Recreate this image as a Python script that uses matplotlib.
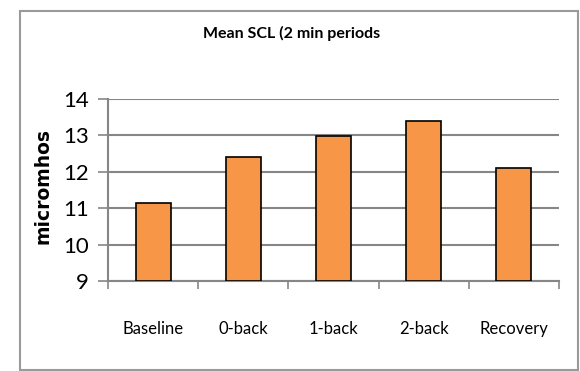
import matplotlib.pyplot as plt
from matplotlib.patches import Rectangle
import numpy as np

# kategorie a průměrné hodnoty SCL
categories = ["Baseline", "0-back", "1-back", "2-back", "Recovery"]
mean_scl = [11.13, 12.42, 12.97, 13.4, 12.1]
yticks = [9, 10, 11, 12, 13, 14]

plt.rcParams["font.family"] = ["Lato", "DejaVu Sans"]

fig = plt.figure(figsize=(5.8, 3.71), dpi=100)

# rámeček kolem celého grafu
fig.patches.append(Rectangle((20 / 580, 1 / 371), 558 / 580, 359 / 371,
                             transform=fig.transFigure, fill=False,
                             edgecolor="#9a9a9a", linewidth=1.5))

ax = fig.add_axes([108 / 580, 90 / 371, 451 / 580, 182 / 371])

x = np.arange(len(categories))
ax.bar(x, np.array(mean_scl) - 9, bottom=9, width=0.39,
       color="#F79646", edgecolor="black", linewidth=1.2, zorder=3)

ax.set_xlim(-0.5, len(categories) - 0.5)
ax.set_ylim(9, 14)
ax.set_yticks(yticks)
ax.set_yticklabels([str(v) for v in yticks], fontsize=16)
ax.yaxis.grid(True, color="#868686", linewidth=1.5, zorder=0)

# popisky na ose x mezi značkami
ax.set_xticks(np.arange(-0.5, len(categories), 1.0))
ax.set_xticklabels([])
ax.set_xticks(x, minor=True)
ax.set_xticklabels(categories, minor=True, fontsize=12)
ax.tick_params(axis="x", which="minor", length=0, pad=29)
ax.tick_params(axis="x", which="major", length=6, width=1.2, color="#868686")
ax.tick_params(axis="y", length=7, width=1.2, color="#868686", pad=7)

for side in ("top", "right"):
    ax.spines[side].set_visible(False)
for side in ("left", "bottom"):
    ax.spines[side].set_color("#868686")
    ax.spines[side].set_linewidth(1.5)

ax.set_ylabel("micromhos", fontsize=13.5, fontweight="bold",
              family=["DejaVu Sans"])
ax.yaxis.set_label_coords(-0.122, 0.52)

fig.text(292 / 580, 1 - 33 / 371, "Mean SCL (2 min periods", ha="center",
         va="center", fontsize=11.5, fontweight="bold")

fig.savefig("out.png", dpi=100)
